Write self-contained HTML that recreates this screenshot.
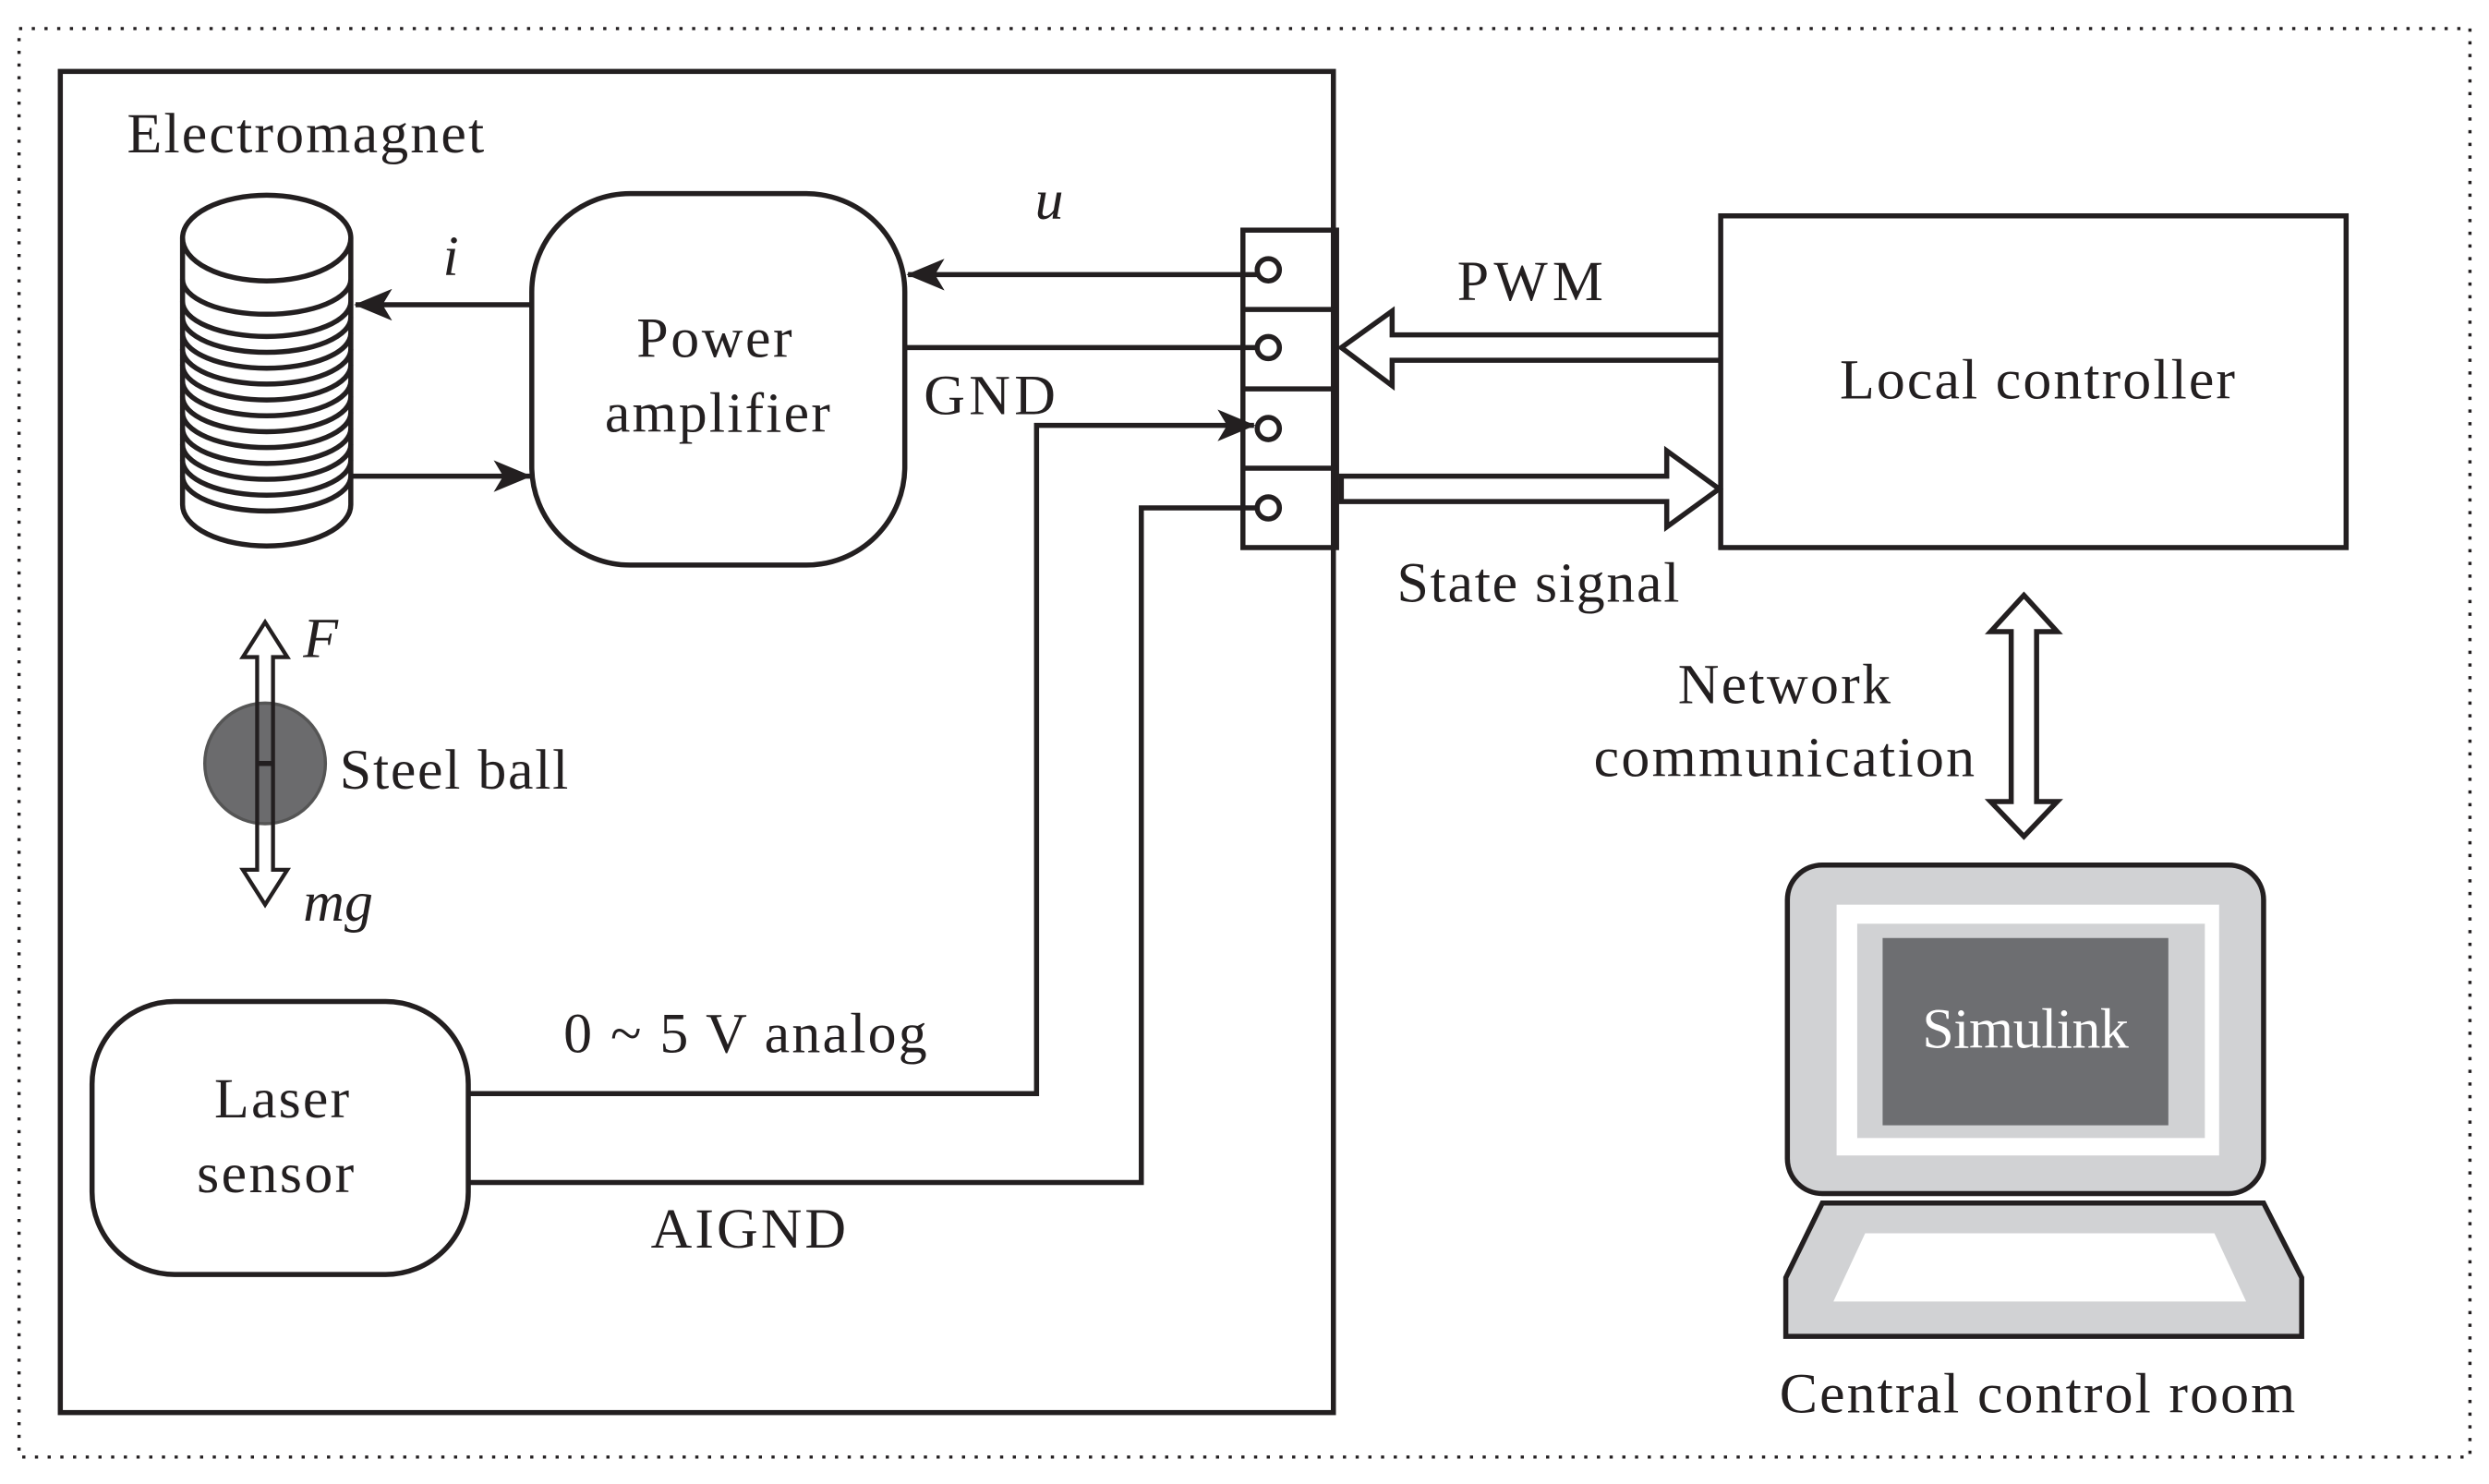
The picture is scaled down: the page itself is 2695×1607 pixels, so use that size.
<!DOCTYPE html>
<html><head><meta charset="utf-8"><style>html,body{margin:0;padding:0;background:#fff}svg{display:block}</style></head><body>
<svg width="2695" height="1607" viewBox="0 0 1568 935" preserveAspectRatio="none" xmlns="http://www.w3.org/2000/svg" font-family="Liberation Serif, serif" fill="none" stroke="#231f20" stroke-width="3.2">
<defs>
<marker id="b" viewBox="0 0 24 20" markerWidth="24" markerHeight="20" refX="23" refY="10" orient="auto" markerUnits="userSpaceOnUse"><path d="M0,0 L24,10 L0,20 L6,10z" fill="#231f20" stroke="none"/></marker></defs>
<rect x="12" y="18" width="1544" height="900" stroke-dasharray="2,6" stroke-width="2"/>
<rect x="38" y="45" width="802" height="845"/>
<path d="M115,150 V318 A53,26 0 0 0 221,318 V150"/>
<ellipse cx="168" cy="150" rx="53" ry="27"/>
<g>
<path d="M115,176 A53,22 0 0 0 221,176"/>
<path d="M115,190 A53,22 0 0 0 221,190"/>
<path d="M115,200 A53,22 0 0 0 221,200"/>
<path d="M115,210 A53,22 0 0 0 221,210"/>
<path d="M115,220 A53,22 0 0 0 221,220"/>
<path d="M115,230 A53,22 0 0 0 221,230"/>
<path d="M115,240 A53,22 0 0 0 221,240"/>
<path d="M115,250 A53,22 0 0 0 221,250"/>
<path d="M115,260 A53,22 0 0 0 221,260"/>
<path d="M115,270 A53,22 0 0 0 221,270"/>
<path d="M115,280 A53,22 0 0 0 221,280"/>
<path d="M115,290 A53,22 0 0 0 221,290"/>
<path d="M115,300 A53,22 0 0 0 221,300"/>
</g>
<line x1="334" y1="192" x2="224" y2="192" marker-end="url(#b)"/>
<line x1="222" y1="300" x2="334" y2="300" marker-end="url(#b)"/>
<rect x="335" y="122" width="235" height="234" rx="62"/>
<rect x="783" y="145" width="59" height="200"/>
<line x1="783" y1="195" x2="842" y2="195"/><line x1="783" y1="245" x2="842" y2="245"/><line x1="783" y1="295" x2="842" y2="295"/>
<circle cx="799" cy="170" r="7"/><circle cx="799" cy="219" r="7"/><circle cx="799" cy="270" r="7"/><circle cx="799" cy="320" r="7"/>
<line x1="792" y1="173" x2="572" y2="173" marker-end="url(#b)"/>
<line x1="570" y1="219" x2="792" y2="219"/>
<polyline points="295,689 653,689 653,268 790,268" marker-end="url(#b)"/>
<polyline points="295,745 719,745 719,320 792,320"/>
<rect x="58" y="631" width="237" height="172" rx="52"/>
<path d="M1083,211 H877 V196 L845,219 L877,243 V227 H1083"/>
<path d="M845,300 H1050 V284 L1083,308 L1050,332 V316 H845z"/>
<rect x="1084" y="136" width="394" height="209"/>
<path d="M1275,375 L1296,398 H1283 V505 H1296 L1275,527 L1254,505 H1267 V398 H1254z"/>
<circle cx="167" cy="481" r="38" fill="#6b6b6d" stroke="#555" stroke-width="2"/>
<path d="M167,392 L181,414 H172 V548 H181 L167,570 L153,548 H162 V414 H153z" stroke-width="2.5"/>
<line x1="162" y1="481" x2="172" y2="481"/>
<rect x="1126" y="545" width="300" height="207" rx="22" fill="#d1d2d4"/>
<rect x="1157" y="570" width="241" height="158" fill="#fff" stroke="none"/>
<rect x="1170" y="582" width="219" height="135" fill="#d1d2d4" stroke="none"/>
<rect x="1186" y="591" width="180" height="118" fill="#6d6e71" stroke="none"/>
<path d="M1148,758 H1426 L1450,805 V842 H1125 V805z" fill="#d1d2d4"/>
<path d="M1175,777 H1395 L1415,820 H1155z" fill="#fff" stroke="none"/>
<g fill="#231f20" stroke="none" font-size="36">
<text x="80" y="96" textLength="225">Electromagnet</text>
<text x="401" y="225" textLength="98">Power</text>
<text x="381" y="272" textLength="142">amplifier</text>
<text x="279" y="173" font-style="italic">i</text>
<text x="652" y="138" font-style="italic">u</text>
<text x="582" y="261" textLength="83">GND</text>
<text x="918" y="189" textLength="92">PWM</text>
<text x="1159" y="251" textLength="249">Local controller</text>
<text x="880" y="379" textLength="178">State signal</text>
<text x="1057" y="443" textLength="134">Network</text>
<text x="1004" y="489" textLength="240">communication</text>
<text x="191" y="414" font-style="italic">F</text>
<text x="214" y="497" textLength="144">Steel ball</text>
<text x="191" y="580" font-style="italic">mg</text>
<text x="355" y="663" textLength="229">0 ~ 5 V analog</text>
<text x="135" y="704" textLength="85">Laser</text>
<text x="124" y="751" textLength="99">sensor</text>
<text x="410" y="786" textLength="123">AIGND</text>
<text x="1211" y="660" textLength="130" fill="#fff">Simulink</text>
<text x="1121" y="890" textLength="325">Central control room</text>
</g>
</svg>
</body></html>
